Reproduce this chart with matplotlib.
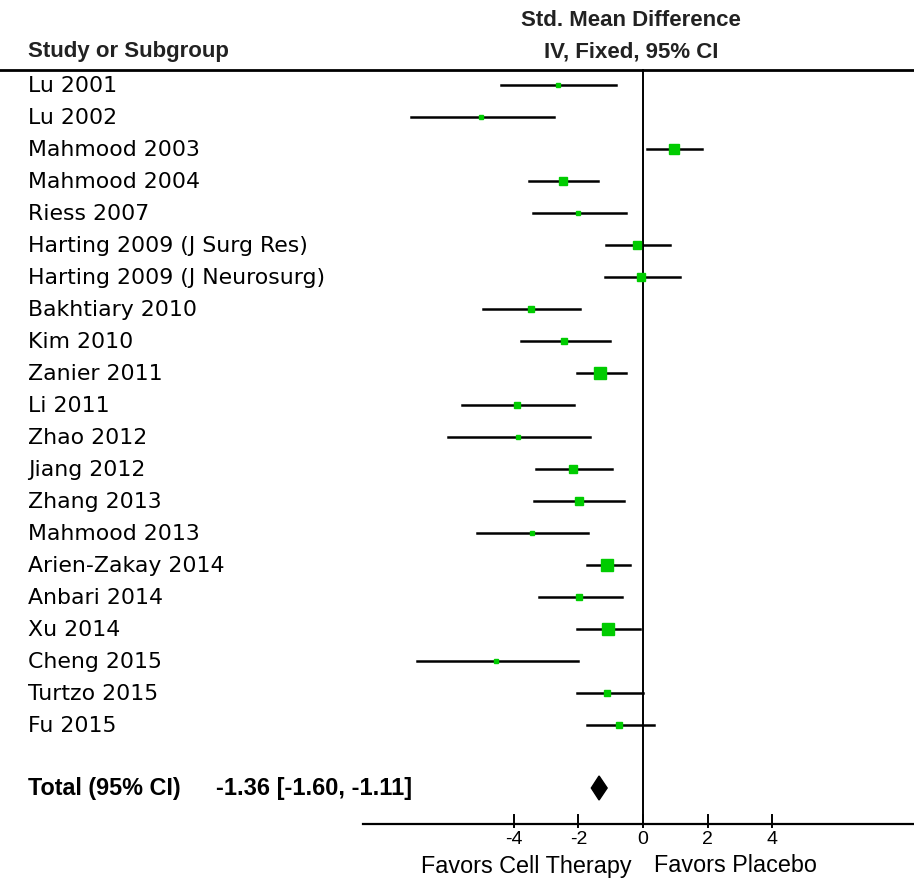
import matplotlib.pyplot as plt
from matplotlib.lines import Line2D

studies = ['Lu 2001', 'Lu 2002', 'Mahmood 2003', 'Mahmood 2004', 'Riess 2007',
           'Harting 2009 (J Surg Res)', 'Harting 2009 (J Neurosurg)', 'Bakhtiary 2010',
           'Kim 2010', 'Zanier 2011', 'Li 2011', 'Zhao 2012', 'Jiang 2012', 'Zhang 2013',
           'Mahmood 2013', 'Arien-Zakay 2014', 'Anbari 2014', 'Xu 2014', 'Cheng 2015',
           'Turtzo 2015', 'Fu 2015']
smd = [-2.63, -5.02, 0.96, -2.48, -2.00, -0.19, -0.05, -3.46, -2.45, -1.33, -3.91,
       -3.86, -2.17, -1.98, -3.44, -1.11, -1.97, -1.08, -4.55, -1.10, -0.74]
lo = [-4.41, -7.19, 0.12, -3.54, -3.41, -1.14, -1.19, -4.96, -3.79, -2.05, -5.59,
      -6.03, -3.30, -3.37, -5.15, -1.74, -3.23, -2.05, -7.01, -2.05, -1.74]
hi = [-0.84, -2.76, 1.83, -1.38, -0.52, 0.85, 1.15, -1.95, -1.03, -0.52, -2.14,
      -1.63, -0.95, -0.58, -1.69, -0.40, -0.64, -0.10, -2.01, 0.01, 0.34]
# relative weight -> marker size
weight = [3, 3, 7, 6, 3, 6, 6, 4, 4, 8, 4, 3, 6, 6, 3, 9, 5, 8, 3, 5, 5]
total = -1.36
total_lo, total_hi = -1.60, -1.11
ticks = [-4, -2, 0, 2, 4]

W, H = 914, 884
fig = plt.figure(figsize=(9.14, 8.84), dpi=100)
ax = fig.add_axes([0, 0, 1, 1])
ax.set_xlim(0, W)
ax.set_ylim(H, 0)
ax.axis('off')

x0, scale = 643, 32.3
def px(v):
    return x0 + v * scale

font = ['Liberation Sans', 'DejaVu Sans']
wide = ['DejaVu Sans']

# header
hdr = dict(fontsize=16, fontweight='bold', family=font, color='#222222', va='center')
ax.text(28, 52, 'Study or Subgroup', ha='left', **hdr)
ax.text(631, 20, 'Std. Mean Difference', ha='center', **hdr)
ax.text(631, 52, 'IV, Fixed, 95% CI', ha='center', **hdr)
ax.add_line(Line2D([0, W], [70, 70], color='black', lw=2))

y_rows = [85 + 32 * i for i in range(len(studies))]
y_total = 788
y_axis = 824

# zero line
ax.add_line(Line2D([px(0), px(0)], [70, y_axis], color='black', lw=1.4))

for name, y, m, l, h, w in zip(studies, y_rows, smd, lo, hi, weight):
    ax.text(28, y + 1, name, fontsize=15.8, family=wide, va='center', ha='left')
    ax.add_line(Line2D([px(l), px(h)], [y, y], color='black', lw=1.8))
    ax.plot(px(m), y, marker='s', ms=w, color='#00cc00', mec='#00cc00')

# total
ax.text(28, y_total, 'Total (95% CI)', fontsize=16.8, fontweight='bold', family=font,
        va='center', ha='left')
ax.text(216, y_total, '%.2f [%.2f, %.2f]' % (total, total_lo, total_hi), fontsize=17,
        fontweight='bold', family=font, va='center', ha='left')
ax.fill([px(total_lo), px(total), px(total_hi), px(total)],
        [y_total, y_total - 12, y_total, y_total + 12], color='black')

# x axis
ax.add_line(Line2D([363, W], [y_axis, y_axis], color='black', lw=1.6))
for t in ticks:
    ax.add_line(Line2D([px(t), px(t)], [y_axis - 9, y_axis + 3], color='black', lw=1.4))
    ax.text(px(t), y_axis + 15, '%d' % t, fontsize=14, family=font, va='center', ha='center')
ax.text(632, 866, 'Favors Cell Therapy', fontsize=16.8, family=font, va='center', ha='right')
ax.text(654, 866, 'Favors Placebo', fontsize=16.8, family=font, va='center', ha='left')

plt.savefig('out.png', dpi=100)
